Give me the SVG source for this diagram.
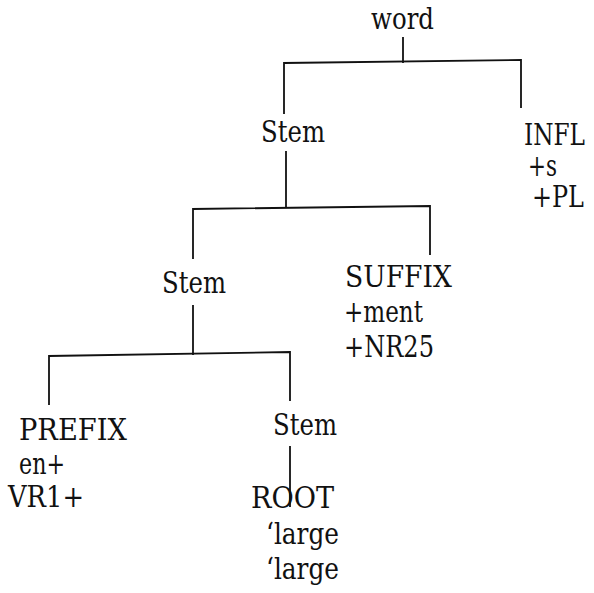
<svg xmlns="http://www.w3.org/2000/svg" width="594" height="593" viewBox="0 0 594 593">
<style>
text{font-family:'DejaVu Serif','Liberation Serif',serif;font-size:29px;fill:#111}
.c{fill:none;stroke:#111;stroke-width:1.8;stroke-linecap:square}
</style>
<rect width="594" height="593" fill="#fff"/>
<g id="connectors" class="c">
<path d="M403 38V62"/>
<path d="M284 113V63L521 60V107"/>
<path d="M286 152V207"/>
<path d="M193 258V209L430 206V254"/>
<path d="M193 306V354"/>
<path d="M49 404V356L290 352V400"/>
<path d="M290 447V506"/>
</g>
<g id="word"><text x="371" y="29" textLength="63" lengthAdjust="spacingAndGlyphs">word</text></g>
<g id="stem1"><text x="261" y="142" textLength="64" lengthAdjust="spacingAndGlyphs">Stem</text></g>
<g id="infl"><text x="585" y="145" text-anchor="end" textLength="61" lengthAdjust="spacingAndGlyphs">INFL</text><text x="528" y="176" textLength="29" lengthAdjust="spacingAndGlyphs">+s</text><text x="532" y="207" textLength="52" lengthAdjust="spacingAndGlyphs">+PL</text></g>
<g id="stem2"><text x="162" y="293" textLength="64" lengthAdjust="spacingAndGlyphs">Stem</text></g>
<g id="suffix"><text x="345" y="287" textLength="107" lengthAdjust="spacingAndGlyphs">SUFFIX</text><text x="344" y="322" textLength="79" lengthAdjust="spacingAndGlyphs">+ment</text><text x="344" y="357" textLength="90" lengthAdjust="spacingAndGlyphs">+NR25</text></g>
<g id="prefix"><text x="19" y="440" textLength="108" lengthAdjust="spacingAndGlyphs">PREFIX</text><text x="19" y="474" textLength="46" lengthAdjust="spacingAndGlyphs">en+</text><text x="8" y="507" textLength="76" lengthAdjust="spacingAndGlyphs">VR1+</text></g>
<g id="stem3"><text x="273" y="435" textLength="64" lengthAdjust="spacingAndGlyphs">Stem</text></g>
<g id="root"><text x="251" y="508" textLength="83" lengthAdjust="spacingAndGlyphs">ROOT</text><text x="266" y="544" textLength="73" lengthAdjust="spacingAndGlyphs">‘large</text><text x="266" y="579" textLength="73" lengthAdjust="spacingAndGlyphs">‘large</text></g>
</svg>
